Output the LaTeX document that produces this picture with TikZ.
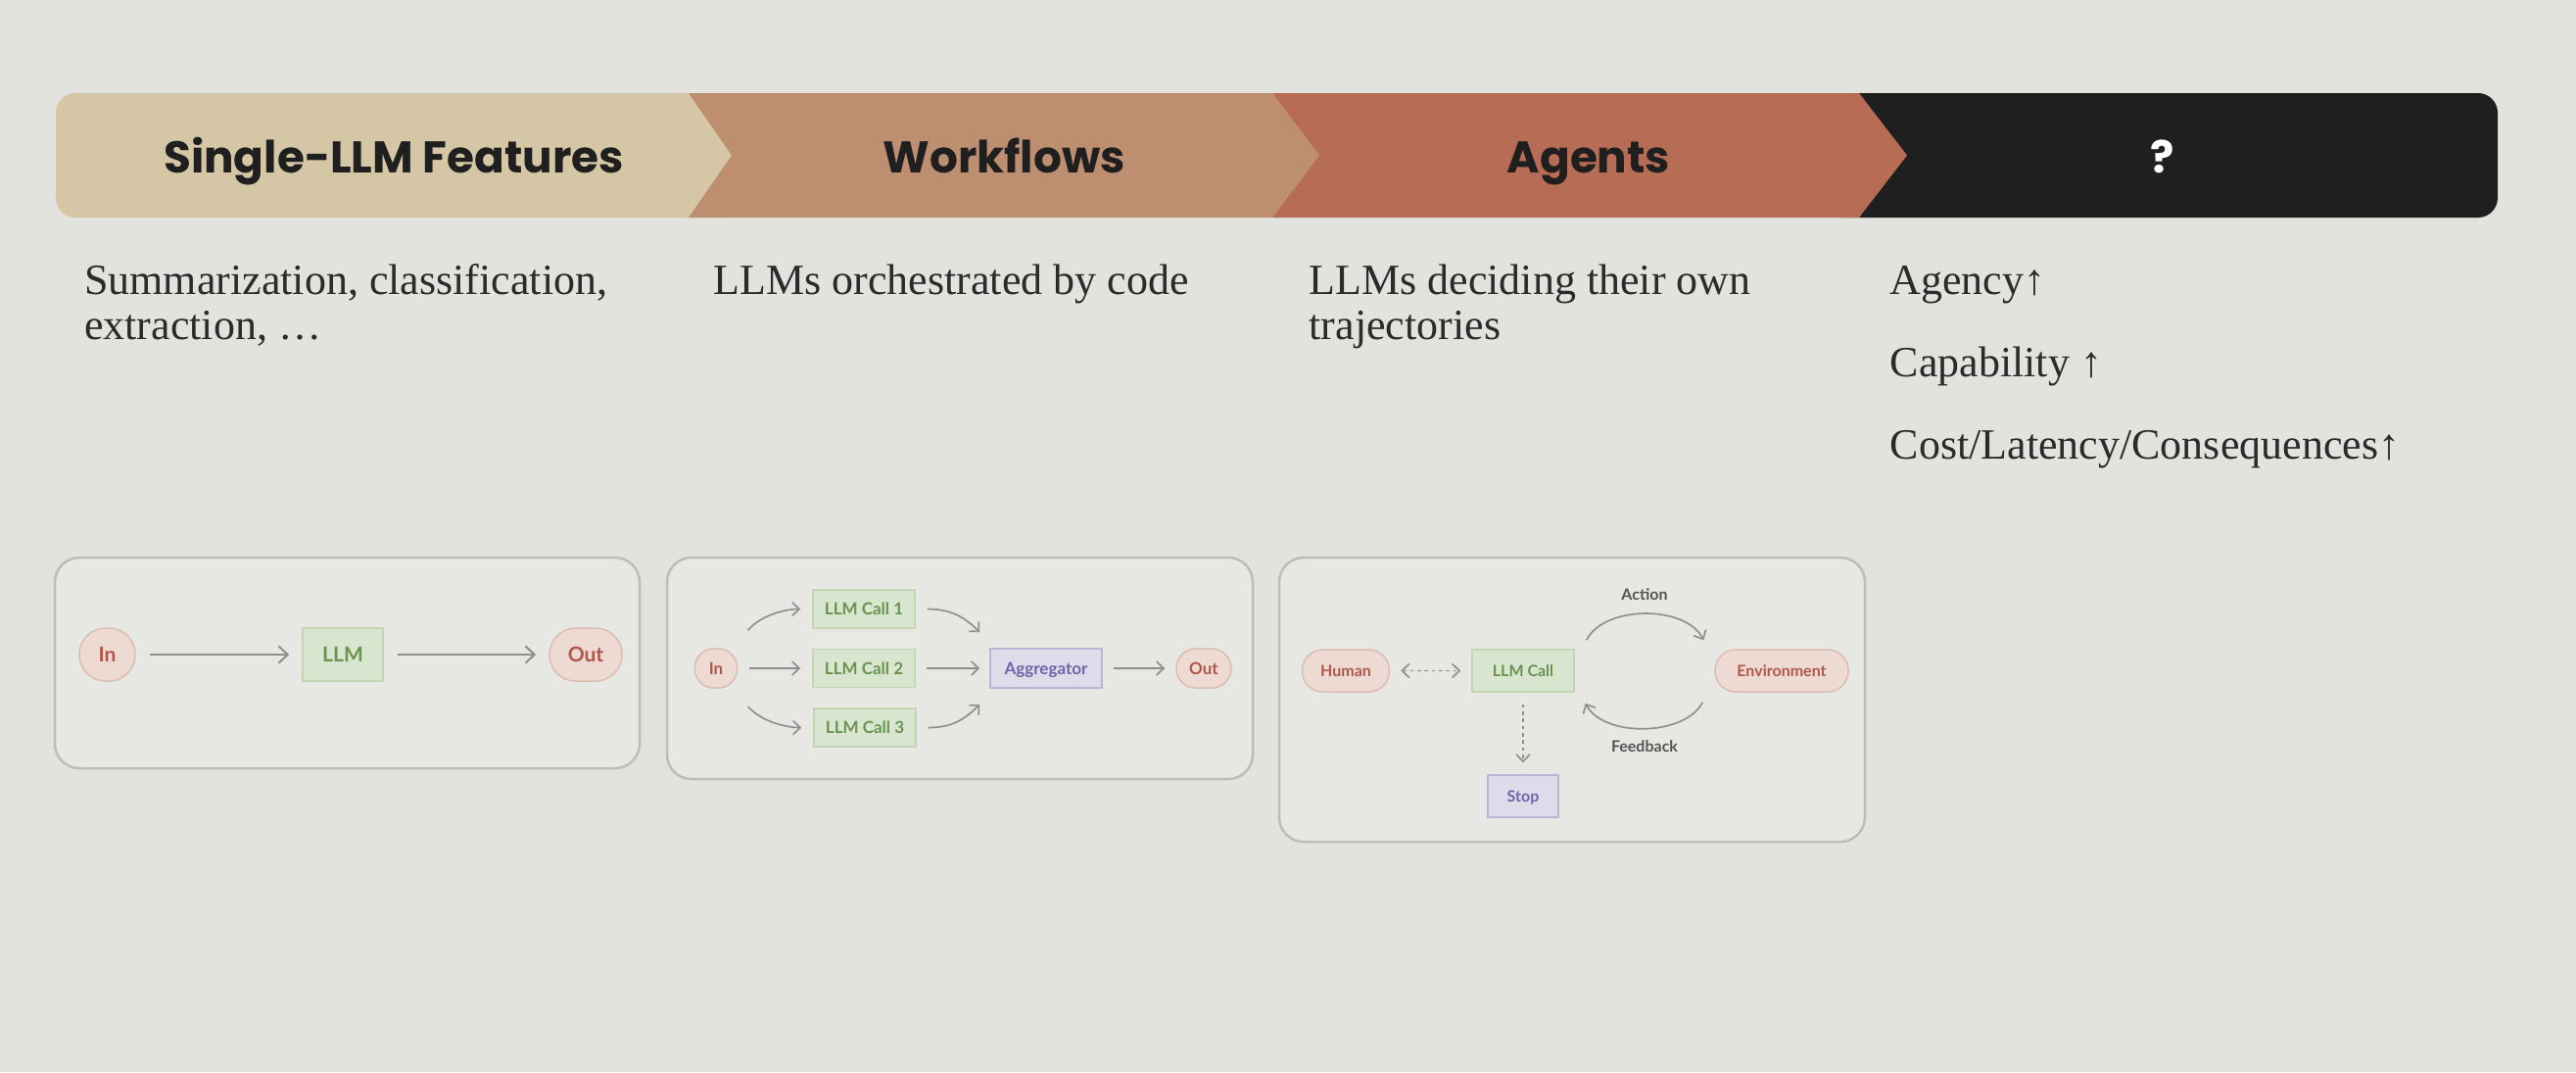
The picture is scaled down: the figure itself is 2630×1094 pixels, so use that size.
\documentclass[tikz,border=0pt]{standalone}
\usepackage{fontspec}
\setmainfont{Liberation Serif}
\newfontfamily\pop{Poppins}
\newfontfamily\lab{Lato}
\usetikzlibrary{arrows.meta}
\definecolor{bgc}{HTML}{E2E3DF}
\definecolor{boxfill}{HTML}{E7E7E4}
\definecolor{boxline}{HTML}{BDBDBB}
\definecolor{tanc}{HTML}{D5C6A5}
\definecolor{wfc}{HTML}{BD8F70}
\definecolor{agc}{HTML}{B76C56}
\definecolor{blkc}{HTML}{1F1F1F}
\definecolor{pinkfill}{HTML}{ECDAD3}
\definecolor{pinkline}{HTML}{DDBDB2}
\definecolor{pinktext}{HTML}{B0574A}
\definecolor{greenfill}{HTML}{D8E5CF}
\definecolor{greenline}{HTML}{C3D6B3}
\definecolor{greentext}{HTML}{6B9350}
\definecolor{purpfill}{HTML}{DEDCEA}
\definecolor{purpline}{HTML}{B9B5D4}
\definecolor{purptext}{HTML}{6C66A8}
\definecolor{arrc}{HTML}{8F8F8F}
\definecolor{bodyc}{HTML}{2B2B2B}
\definecolor{labc}{HTML}{555555}
\tikzset{
  head/.style={anchor=base, inner sep=0pt, font=\pop\bfseries\fontsize{13.6}{16}\selectfont, text=blkc},
  body/.style={anchor=base west, inner sep=0pt, font=\fontsize{13.2}{15}\selectfont, text=bodyc},
  frame/.style={draw=boxline, fill=boxfill, line width=0.75pt, rounded corners=7.5pt},
  lbl/.style={inner sep=0pt, line width=0.45pt, text depth=0pt},
  pillA/.style={lbl, rectangle, rounded corners=8pt, draw=pinkline, fill=pinkfill, text=pinktext, minimum height=16.2pt, text height=4.5pt, font=\lab\bfseries\fontsize{6.3}{7}\selectfont},
  greenA/.style={lbl, rectangle, draw=greenline, fill=greenfill, text=greentext, minimum height=16.2pt, text height=4.5pt, font=\lab\bfseries\fontsize{6.3}{7}\selectfont},
  pillB/.style={lbl, rectangle, rounded corners=5.9pt, draw=pinkline, fill=pinkfill, text=pinktext, minimum height=12pt, text height=3.7pt, font=\lab\bfseries\fontsize{5.1}{6}\selectfont},
  greenB/.style={lbl, rectangle, draw=greenline, fill=greenfill, text=greentext, minimum height=11.7pt, minimum width=31.2pt, text height=3.7pt, font=\lab\bfseries\fontsize{5.1}{6}\selectfont},
  purpB/.style={lbl, rectangle, draw=purpline, fill=purpfill, text=purptext, minimum height=12pt, text height=3.7pt, font=\lab\bfseries\fontsize{5.1}{6}\selectfont},
  pillC/.style={lbl, rectangle, rounded corners=6.3pt, draw=pinkline, fill=pinkfill, text=pinktext, minimum height=12.9pt, text height=3.5pt, font=\lab\bfseries\fontsize{4.8}{6}\selectfont},
  greenC/.style={lbl, rectangle, draw=greenline, fill=greenfill, text=greentext, minimum height=12.9pt, text height=3.5pt, font=\lab\bfseries\fontsize{4.8}{6}\selectfont},
  purpC/.style={lbl, rectangle, draw=purpline, fill=purpfill, text=purptext, minimum height=12.9pt, text height=3.5pt, font=\lab\bfseries\fontsize{4.8}{6}\selectfont},
  edgelbl/.style={inner sep=0pt, text=labc, font=\lab\bfseries\fontsize{4.8}{6}\selectfont},
  arrA/.style={draw=arrc, line width=0.6pt, -{Straight Barb[length=2.8pt,width=5.2pt]}, shorten <=4.2pt, shorten >=3.9pt},
  arrB/.style={draw=arrc, line width=0.5pt, -{Straight Barb[length=2.2pt,width=4.2pt]}},
  dotarr/.style={draw=arrc, line width=0.5pt, dash pattern=on 1.1pt off 1.1pt},
}
\begin{document}
\begin{tikzpicture}[x=0.3pt,y=-0.3pt]
\fill[bgc] (0,0) rectangle (2630,1094);
\useasboundingbox (0,0) rectangle (2630,1094);

% banner
\fill[tanc, rounded corners=6pt] (57,95) rectangle (760,222);
\fill[blkc, rounded corners=6pt] (1860,95) rectangle (2550,222);
\fill[wfc] (703,95) -- (1299,95) -- (1347,158.5) -- (1299,222) -- (703,222) -- (747,158.5) -- cycle;
\fill[agc] (1299,95) -- (1898,95) -- (1947,158.5) -- (1898,222) -- (1299,222) -- (1347,158.5) -- cycle;
\node[head] (h1) at (402,176) {Single-LLM Features};
\node[head] (h2) at (1025,176) {Workflows};
\node[head] (h3) at (1622,176) {Agents};
\node[head, text=white] (h4) at (2208,176) {?};

% descriptions
\node[body] (t1a) at (85.5,300) {Summarization, classification,};
\node[body] (t1b) at (85.5,346) {extraction, …};
\node[body] (t2) at (728,300) {LLMs orchestrated by code};
\node[body] (t3a) at (1336,300) {LLMs deciding their own};
\node[body] (t3b) at (1336,346) {trajectories};
\node[body] (t4a) at (1929,300) {Agency↑};
\node[body] (t4b) at (1929,384) {Capability ↑};
\node[body] (t4c) at (1929,468) {Cost/Latency/Consequences↑};

% frames
\draw[frame] (56,569) rectangle (653,784);
\draw[frame] (681,569) rectangle (1279,795);
\draw[frame] (1306,569) rectangle (1904,859);

% diagram 1
\node[pillA, minimum width=17.1pt] (in1) at (109.5,668) {In};
\node[greenA, minimum width=24.6pt] (llm1) at (350,668) {LLM};
\node[pillA, minimum width=22.2pt] (out1) at (598,668) {Out};
\draw[arrA] (in1) -- (llm1);
\draw[arrA] (llm1) -- (out1);

% diagram 2
\node[pillB, minimum width=13.05pt] (in2) at (731,682) {In};
\node[greenB] (c1) at (882,621.5) {LLM Call 1};
\node[greenB] (c2) at (882,682) {LLM Call 2};
\node[greenB] (c3) at (883,742.5) {LLM Call 3};
\node[purpB, minimum width=34.2pt] (agg) at (1068,682) {Aggregator};
\node[pillB, minimum width=16.8pt] (out2) at (1229,682) {Out};
\draw[arrB, shorten <=3.3pt, shorten >=3.6pt] (in2) -- (c2);
\draw[arrB, shorten <=3.3pt, shorten >=3pt] (c2) -- (agg);
\draw[arrB, shorten <=3.3pt, shorten >=3.3pt] (agg) -- (out2);
\draw[arrB, shorten >=3.6pt] ([shift={(10,-18)}]in2.north east) .. controls +(15,-17) and +(-25,0) .. (c1.west);
\draw[arrB, shorten >=3.6pt] ([shift={(10,18)}]in2.south east) .. controls +(15,17) and +(-25,0) .. (c3.west);
\draw[arrB] ([xshift=3.6pt]c1.east) .. controls +(25,0) and +(-15,-15) .. ([shift={(-10,-16)}]agg.north west);
\draw[arrB] ([xshift=3.6pt]c3.east) .. controls +(25,0) and +(-15,15) .. ([shift={(-10,16)}]agg.south west);

% diagram 3
\node[pillC, minimum width=26.7pt] (hum) at (1374,684.5) {Human};
\node[greenC, minimum width=31.2pt] (llm3) at (1555,684.5) {LLM Call};
\node[pillC, minimum width=40.8pt] (env) at (1819,684.5) {Environment};
\node[purpC, minimum width=21.6pt] (stop) at (1555,812.5) {Stop};
\draw[dotarr, {Straight Barb[length=2.2pt,width=4.2pt]}-{Straight Barb[length=2.2pt,width=4.2pt]}, shorten <=3.3pt, shorten >=3.3pt] (hum) -- (llm3);
\draw[dotarr, -{Straight Barb[length=2.2pt,width=4.2pt]}, shorten <=3.6pt, shorten >=3.6pt] (llm3) -- (stop);
\draw[arrB] ([shift={(12,-9)}]llm3.north east) .. controls +(18,-36) and +(-18,-36) .. ([shift={(-11,-9)}]env.north west);
\draw[arrB] ([shift={(-12,10)}]env.south west) .. controls +(-18,35) and +(18,35) .. ([shift={(11,11)}]llm3.south east);
\node[edgelbl] (act) at (1679,607) {Action};
\node[edgelbl] (fb) at (1679,762) {Feedback};
\end{tikzpicture}
\end{document}
